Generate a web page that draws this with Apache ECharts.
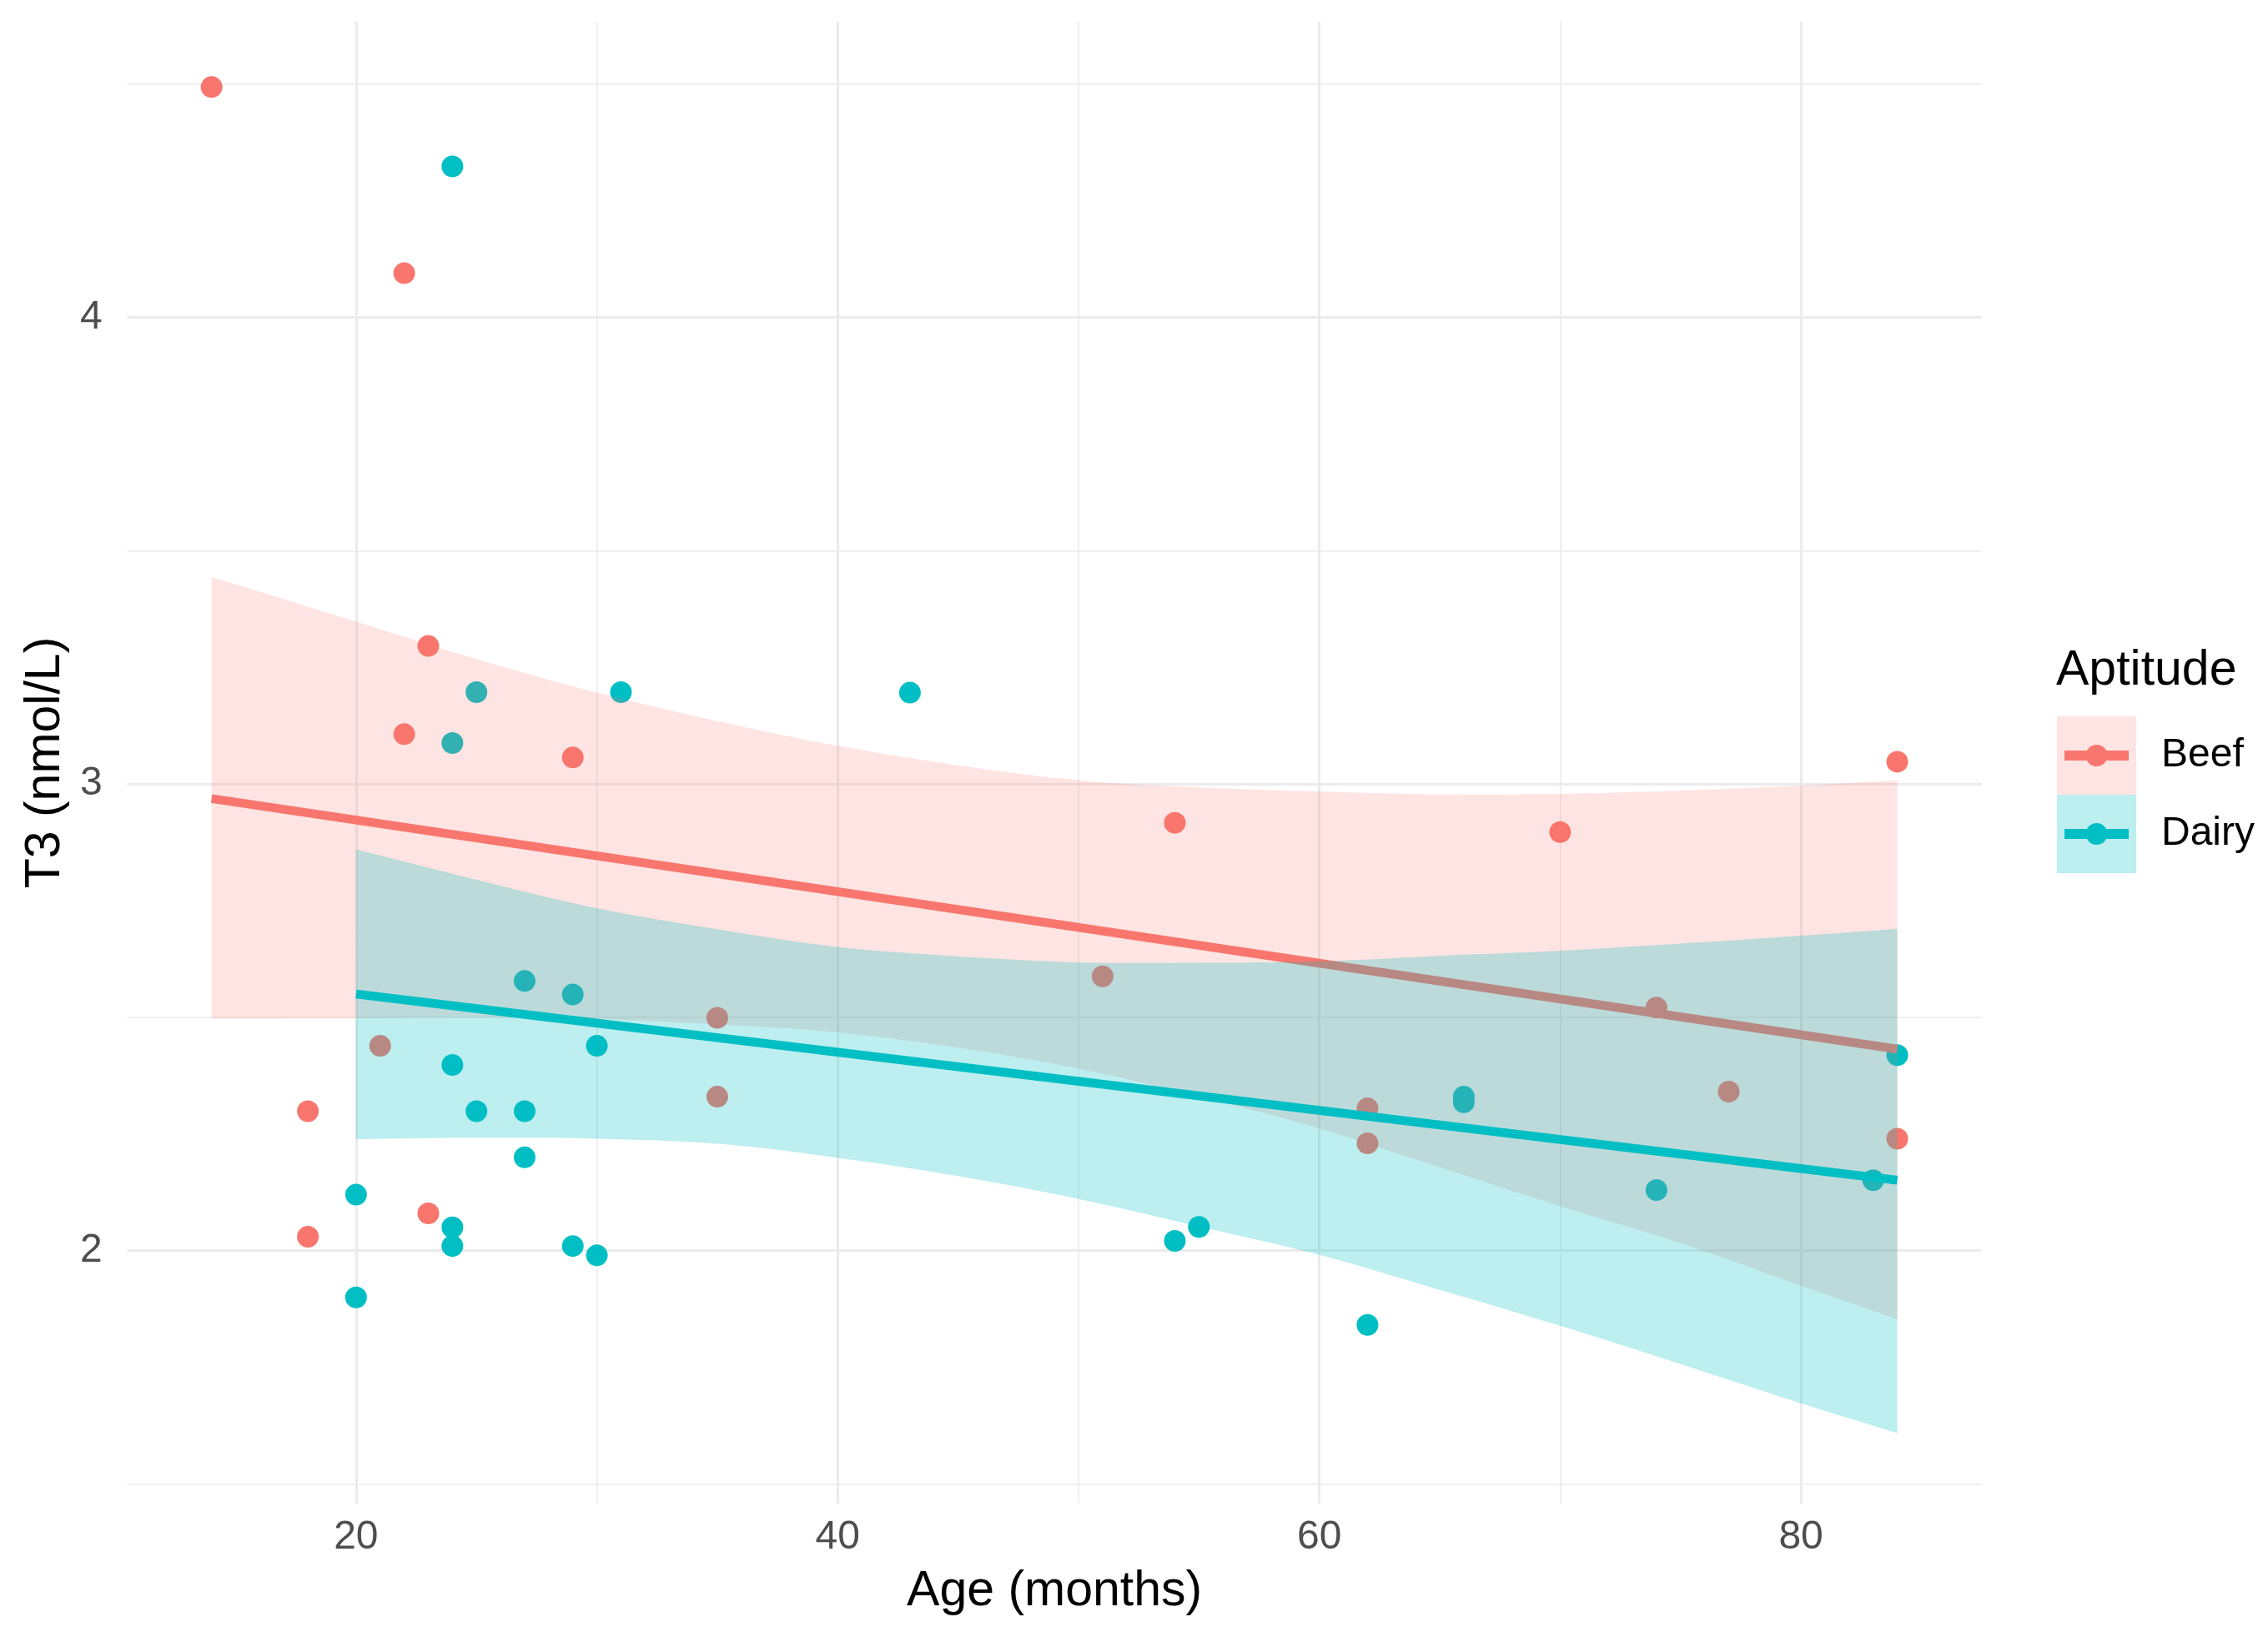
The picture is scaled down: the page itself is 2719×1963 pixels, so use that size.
<!DOCTYPE html>
<html>
<head>
<meta charset="utf-8">
<script src="https://cdn.jsdelivr.net/npm/echarts@6/dist/echarts.min.js"></script>
<style>
html,body{margin:0;padding:0;background:#fff;}
#chart{width:2719px;height:1963px;}
</style>
</head>
<body>
<div id="chart"></div>
<script>
// ---------- data ----------
const groups = ['Beef', 'Dairy'];
const groupColors = ['#F8766D', '#00BFC4'];
const bandAlpha = [0.2, 0.26];

const beefAge = [14, 22, 23, 22, 29, 54, 70, 84, 51, 35, 74, 21, 35, 18, 62, 77, 62, 84, 23, 18];
const beefT3  = [4.494, 4.095, 3.296, 3.107, 3.057, 2.917, 2.897, 3.048, 2.588, 2.499, 2.521, 2.439, 2.330, 2.299, 2.305, 2.341, 2.230, 2.240, 2.080, 2.030];

const dairyAge = [24, 25, 31, 43, 24, 27, 29, 30, 24, 25, 27, 27, 20, 24, 24, 29, 30, 20, 54, 55, 62, 66, 66, 74, 83, 84];
const dairyT3  = [4.324, 3.197, 3.197, 3.196, 3.088, 2.578, 2.549, 2.439, 2.398, 2.299, 2.299, 2.200, 2.120, 2.050, 2.010, 2.010, 1.990, 1.900, 2.021, 2.051, 1.841, 2.330, 2.318, 2.130, 2.151, 2.419];

// fitted regression lines (end points)
const beefFitAge = [14, 84];
const beefFitT3  = [2.969, 2.432];
const dairyFitAge = [20, 84];
const dairyFitT3  = [2.550, 2.151];

// confidence bands
const beefBandAge  = [14, 20, 25, 30, 35, 40, 45, 50, 55, 60, 65, 70, 75, 80, 84];
const beefBandHigh = [3.444, 3.348, 3.268, 3.196, 3.135, 3.082, 3.040, 3.008, 2.993, 2.984, 2.978, 2.979, 2.986, 2.997, 3.008];
const beefBandLow  = [2.497, 2.498, 2.500, 2.496, 2.485, 2.468, 2.435, 2.390, 2.330, 2.262, 2.179, 2.095, 2.016, 1.925, 1.853];

const dairyBandAge  = [20, 25, 30, 35, 40, 45, 50, 55, 60, 65, 70, 75, 80, 84];
const dairyBandHigh = [2.860, 2.795, 2.734, 2.689, 2.651, 2.631, 2.618, 2.617, 2.620, 2.632, 2.643, 2.658, 2.675, 2.690];
const dairyBandLow  = [2.239, 2.242, 2.240, 2.229, 2.199, 2.160, 2.111, 2.052, 1.991, 1.916, 1.839, 1.757, 1.673, 1.609];

const xTickLabels = [20, 40, 60, 80];
const yTickLabels = [2, 3, 4];
const xRange = [10.5, 87.5];
const yRange = [1.458, 4.634];

// ---------- helpers ----------
const FONT = "'Liberation Sans', Arial, Helvetica, sans-serif";
function zip(a, b) { return a.map((v, i) => [v, b[i]]); }
function rgba(hex, a) {
  const n = parseInt(hex.slice(1), 16);
  return 'rgba(' + ((n >> 16) & 255) + ',' + ((n >> 8) & 255) + ',' + (n & 255) + ',' + a + ')';
}
function bandSeries(name, xs, lo, hi, fill, z) {
  return {
    type: 'custom', name: name, z: z, silent: true, animation: false,
    data: [[xs[0], lo[0]]],
    encode: { x: 0, y: 1 },
    renderItem: function (params, api) {
      const last = xs.length - 1;
      const pts = [];
      // corner points are doubled so the smoothing keeps the ends square
      pts.push(api.coord([xs[0], hi[0]]));
      for (let i = 0; i <= last; i++) pts.push(api.coord([xs[i], hi[i]]));
      pts.push(api.coord([xs[last], hi[last]]));
      pts.push(api.coord([xs[last], lo[last]]));
      for (let i = last; i >= 0; i--) pts.push(api.coord([xs[i], lo[i]]));
      pts.push(api.coord([xs[0], lo[0]]));
      return { type: 'polygon', shape: { points: pts, smooth: 0.35 }, style: { fill: fill, stroke: null } };
    }
  };
}
function keyIcon(color, alpha) {
  const svg = '<svg xmlns="http://www.w3.org/2000/svg" width="95" height="94" viewBox="0 0 95 94">' +
    '<rect x="0" y="0" width="95" height="94" fill="' + color + '" fill-opacity="' + alpha + '"/>' +
    '<line x1="9" y1="47" x2="86" y2="47" stroke="' + color + '" stroke-width="12"/>' +
    '<circle cx="47.5" cy="47" r="13" fill="' + color + '"/></svg>';
  return 'image://data:image/svg+xml;charset=utf-8,' + encodeURIComponent(svg);
}

const gridLine = '#EBEBEB';
const chart = echarts.init(document.getElementById('chart'), null, { renderer: 'canvas' });

const option = {
  animation: false,
  backgroundColor: '#ffffff',
  textStyle: { fontFamily: FONT },
  grid: { left: 152.6, right: 343.4, top: 26, bottom: 160, containLabel: false, outerBoundsMode: 'none' },
  title: {
    text: 'Aptitude', left: 2465, top: 775, padding: 0,
    textStyle: { fontSize: 59, fontWeight: 'normal', color: '#000000', fontFamily: FONT }
  },
  legend: {
    orient: 'vertical', left: 2466, top: 859, padding: 0,
    itemWidth: 95, itemHeight: 94, itemGap: 0,
    selectedMode: false,
    textStyle: { fontSize: 48, color: '#000000', fontFamily: FONT, padding: [0, 0, 0, 25] },
    data: groups.map((g, i) => ({ name: g, icon: keyIcon(groupColors[i], bandAlpha[i]) }))
  },
  xAxis: [
    {
      type: 'value', min: xRange[0], max: xRange[1], minInterval: 20, maxInterval: 20, splitNumber: 4,
      name: 'Age (months)', nameLocation: 'middle', nameGap: 76,
      nameTextStyle: { fontSize: 59, color: '#000000', fontFamily: FONT },
      axisLine: { show: false }, axisTick: { show: false },
      axisLabel: {
        fontSize: 48, color: '#4D4D4D', margin: 17, fontFamily: FONT,
        showMinLabel: false, showMaxLabel: false,
        formatter: v => (xTickLabels.indexOf(v) >= 0 ? String(v) : '')
      },
      splitLine: { show: true, showMinLine: false, showMaxLine: false, lineStyle: { color: gridLine, width: 3 } }
    },
    {
      type: 'value', min: xRange[0], max: xRange[1], minInterval: 10, maxInterval: 10, splitNumber: 8,
      position: 'bottom',
      axisLine: { show: false }, axisTick: { show: false }, axisLabel: { show: false },
      splitLine: { show: true, showMinLine: false, showMaxLine: false, lineStyle: { color: gridLine, width: 1.6 } }
    }
  ],
  yAxis: [
    {
      type: 'value', min: yRange[0], max: yRange[1], minInterval: 1, maxInterval: 1, splitNumber: 3,
      name: 'T3 (nmol/L)', nameLocation: 'middle', nameGap: 68, nameRotate: 90,
      nameTextStyle: { fontSize: 59, color: '#000000', fontFamily: FONT },
      axisLine: { show: false }, axisTick: { show: false },
      axisLabel: {
        fontSize: 48, color: '#4D4D4D', margin: 30, fontFamily: FONT,
        showMinLabel: false, showMaxLabel: false,
        formatter: v => (yTickLabels.indexOf(v) >= 0 ? String(v) : '')
      },
      splitLine: { show: true, showMinLine: false, showMaxLine: false, lineStyle: { color: gridLine, width: 3 } }
    },
    {
      type: 'value', min: yRange[0], max: yRange[1], minInterval: 0.5, maxInterval: 0.5, splitNumber: 6,
      position: 'left',
      axisLine: { show: false }, axisTick: { show: false }, axisLabel: { show: false },
      splitLine: { show: true, showMinLine: false, showMaxLine: false, lineStyle: { color: gridLine, width: 1.6 } }
    }
  ],
  series: [
    {
      type: 'scatter', name: groups[0], z: 2, symbol: 'circle', symbolSize: 26,
      itemStyle: { color: groupColors[0], opacity: 1 },
      data: zip(beefAge, beefT3)
    },
    {
      type: 'scatter', name: groups[1], z: 2, symbol: 'circle', symbolSize: 26,
      itemStyle: { color: groupColors[1], opacity: 1 },
      data: zip(dairyAge, dairyT3)
    },
    bandSeries('Beef CI', beefBandAge, beefBandLow, beefBandHigh, rgba(groupColors[0], bandAlpha[0]), 3),
    {
      type: 'line', name: 'Beef fit', z: 4, symbol: 'none', silent: true,
      lineStyle: { color: groupColors[0], width: 10.5 },
      data: zip(beefFitAge, beefFitT3)
    },
    bandSeries('Dairy CI', dairyBandAge, dairyBandLow, dairyBandHigh, rgba(groupColors[1], bandAlpha[1]), 5),
    {
      type: 'line', name: 'Dairy fit', z: 6, symbol: 'none', silent: true,
      lineStyle: { color: groupColors[1], width: 10.5 },
      data: zip(dairyFitAge, dairyFitT3)
    }
  ]
};
chart.setOption(option);
</script>
</body>
</html>
